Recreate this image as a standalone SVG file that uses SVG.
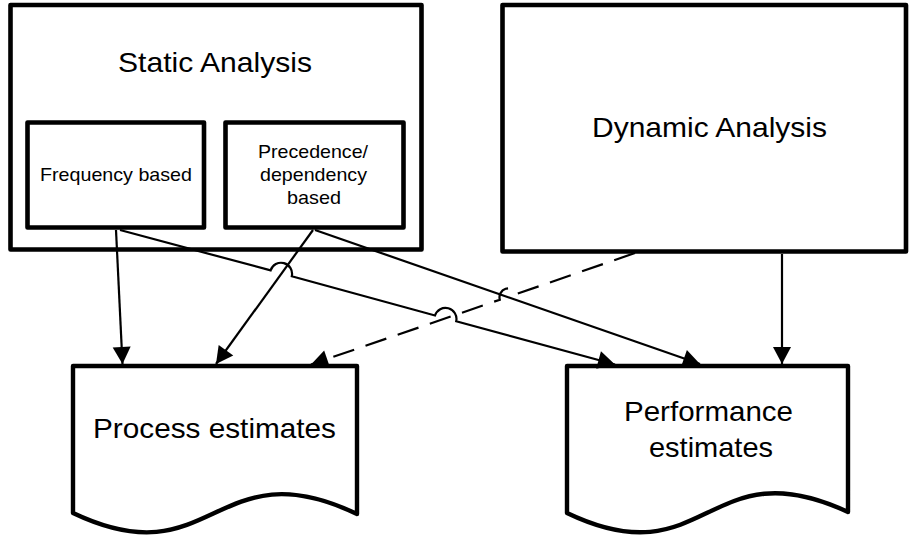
<svg xmlns="http://www.w3.org/2000/svg" width="909" height="537" viewBox="0 0 909 537">
<style>
.box{fill:#fff;stroke:#000;stroke-width:4.6;stroke-linejoin:round}
.doc{fill:#fff;stroke:#000;stroke-width:4.4;stroke-linejoin:round}
.big{font-family:"Liberation Sans",Arial,sans-serif;font-size:28px;fill:#000}
.small{font-family:"Liberation Sans",Arial,sans-serif;font-size:19px;fill:#000}
.conn{fill:none;stroke:#000;stroke-width:2.2}
.dash{stroke-dasharray:22 12}
</style>
<defs>
<marker id="arrow" markerUnits="userSpaceOnUse" markerWidth="19" markerHeight="19" refX="17" refY="9" orient="auto" overflow="visible">
<path d="M0,0 L17,9 L0,18 Z" fill="#000"/>
</marker>
</defs>
<g id="static-analysis">
<rect class="box" x="10.5" y="5" width="411" height="244.5"/>
<text class="big" x="118" y="72" textLength="194" lengthAdjust="spacingAndGlyphs">Static Analysis</text>
</g>
<g id="frequency-based">
<rect class="box" x="27.5" y="122.5" width="176.5" height="105"/>
<text class="small" x="40" y="181" textLength="152" lengthAdjust="spacingAndGlyphs">Frequency based</text>
</g>
<g id="precedence-based">
<rect class="box" x="225.5" y="122.5" width="178" height="105"/>
<text class="small" x="258" y="158" textLength="110" lengthAdjust="spacingAndGlyphs">Precedence/</text>
<text class="small" x="260" y="181" textLength="107" lengthAdjust="spacingAndGlyphs">dependency</text>
<text class="small" x="287" y="204" textLength="54" lengthAdjust="spacingAndGlyphs">based</text>
</g>
<g id="dynamic-analysis">
<rect class="box" x="502.5" y="5" width="403.5" height="246.5"/>
<text class="big" x="592" y="137" textLength="235" lengthAdjust="spacingAndGlyphs">Dynamic Analysis</text>
</g>
<g id="process-estimates">
<path class="doc" d="M73,366 H357 V514 C214,446 214,580 73,513 Z"/>
<text class="big" x="93" y="438" textLength="243" lengthAdjust="spacingAndGlyphs">Process estimates</text>
</g>
<g id="performance-estimates">
<path class="doc" d="M567,366 H848 V512 C707,446 707,580 567,513 Z"/>
<text class="big" x="624" y="420.5" textLength="169" lengthAdjust="spacingAndGlyphs">Performance</text>
<text class="big" x="649" y="457" textLength="124" lengthAdjust="spacingAndGlyphs">estimates</text>
</g>
<g id="connectors">
<path class="conn" d="M116,230 L122.5,364" marker-end="url(#arrow)"/>
<path class="conn" d="M313,230 L216,364" marker-end="url(#arrow)"/>
<path class="conn" d="M120,230 L270.6,270.4 A11 11 0 0 1 291.8,276.2 L435,315.5 A11 11 0 0 1 456.2,321.3 L615,364.5" marker-end="url(#arrow)"/>
<path class="conn" d="M315,230 L700,364" marker-end="url(#arrow)"/>
<path class="conn" d="M782,254 L782,364" marker-end="url(#arrow)"/>
<path class="conn dash" d="M635,253 L516.8,293.9 A9 9 0 0 0 499.8,299.7 L311,364.5" marker-end="url(#arrow)"/>
</g>
</svg>
